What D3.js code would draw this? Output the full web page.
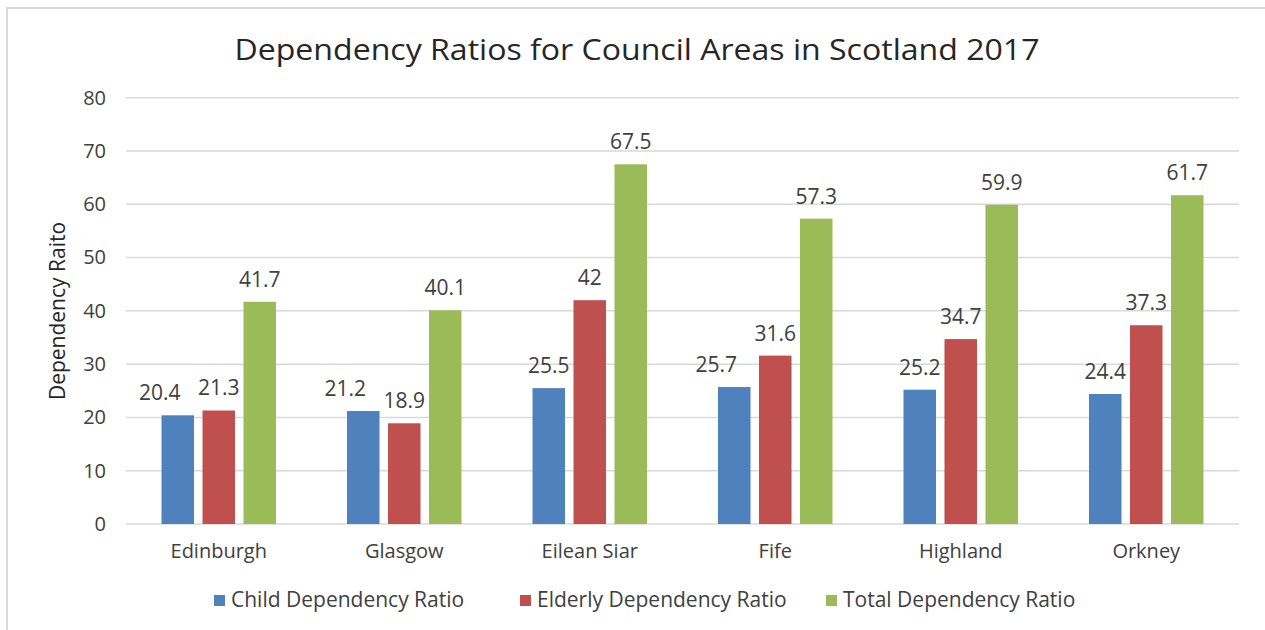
<!DOCTYPE html>
<html>
<head>
<meta charset="utf-8">
<script src="https://cdn.jsdelivr.net/npm/d3@7/dist/d3.min.js"></script>
<style>
  html, body { margin: 0; padding: 0; background: #fff; }
  svg { display: block; font-family: "Open Sans", "Liberation Sans", sans-serif; }
</style>
</head>
<body>
<svg id="chart" width="1265" height="630"></svg>
<script>
// Council areas and their dependency ratios (2017)
const areas = ["Edinburgh", "Glasgow", "Eilean Siar", "Fife", "Highland", "Orkney"];
const seriesNames = ["Child Dependency Ratio", "Elderly Dependency Ratio", "Total Dependency Ratio"];
const childRatio = [20.4, 21.2, 25.5, 25.7, 25.2, 24.4];
const elderlyRatio = [21.3, 18.9, 42, 31.6, 34.7, 37.3];
const totalRatio = [41.7, 40.1, 67.5, 57.3, 59.9, 61.7];
const yTicks = [0, 10, 20, 30, 40, 50, 60, 70, 80];
const seriesColors = ["#4F81BD", "#C0504D", "#9BBB59"];

const seriesValues = [childRatio, elderlyRatio, totalRatio];
const rows = areas.map((a, i) => ({
  area: a,
  values: seriesNames.map((s, k) => ({ series: s, k, value: seriesValues[k][i] }))
}));

const svg = d3.select("#chart");
const W = 1265, H = 630;
const plot = { left: 126, right: 1239, top: 97.7, bottom: 524 };

// outer frame
svg.append("rect")
  .attr("x", 7).attr("y", 8)
  .attr("width", W + 20).attr("height", H + 20)
  .attr("fill", "none").attr("stroke", "#D9D9D9").attr("stroke-width", 2);

const x0 = d3.scaleBand().domain(areas).range([plot.left, plot.right]).paddingInner(0).paddingOuter(0);
const x1 = d3.scaleBand().domain(seriesNames).range([0, x0.bandwidth()]).paddingInner(0.207).paddingOuter(0.866);
const y = d3.scaleLinear().domain([0, 80]).range([plot.bottom, plot.top]);

// gridlines
svg.append("g").selectAll("line").data(yTicks).join("line")
  .attr("x1", plot.left).attr("x2", plot.right)
  .attr("y1", d => y(d)).attr("y2", d => y(d))
  .attr("stroke", "#D9D9D9").attr("stroke-width", 1.5);

// y axis tick labels
const yAxis = d3.axisLeft(y).tickValues(yTicks).tickSize(0).tickPadding(0);
const yg = svg.append("g").attr("transform", `translate(106,0)`).call(yAxis);
yg.select(".domain").remove();
yg.selectAll("text").attr("font-size", 20).attr("fill", "#404040")
  .attr("font-family", "'Open Sans', sans-serif");

// x axis category labels
const xAxis = d3.axisBottom(x0).tickSize(0).tickPadding(0);
const xg = svg.append("g").attr("transform", `translate(0,${plot.bottom})`).call(xAxis);
xg.select(".domain").remove();
xg.selectAll("text").attr("font-size", 20).attr("fill", "#404040")
  .attr("font-family", "'Open Sans', sans-serif")
  .attr("dy", null).attr("y", 34);

// bars
const groups = svg.append("g").selectAll("g").data(rows).join("g")
  .attr("transform", d => `translate(${x0(d.area)},0)`);

groups.selectAll("rect").data(d => d.values).join("rect")
  .attr("x", d => x1(d.series))
  .attr("width", x1.bandwidth())
  .attr("y", d => y(d.value))
  .attr("height", d => y(0) - y(d.value))
  .attr("fill", d => seriesColors[d.k]);

// value labels; a label that would collide with its right neighbour slides left
const labels = groups.selectAll("text.val").data(d => d.values).join("text")
  .attr("class", "val")
  .attr("x", d => x1(d.series) + x1.bandwidth() / 2)
  .attr("y", d => y(d.value) - 15)
  .attr("text-anchor", "middle")
  .attr("font-size", 21).attr("fill", "#404040")
  .text(d => d.value);

groups.each(function () {
  const ts = d3.select(this).selectAll("text.val").nodes();
  for (let i = ts.length - 2; i >= 0; i--) {
    const a = ts[i].getBBox(), b = ts[i + 1].getBBox();
    const pad = 4;
    const overlapY = a.y < b.y + b.height + pad && b.y < a.y + a.height + pad;
    const overlapX = a.x + a.width + pad > b.x;
    if (overlapX && overlapY) {
      const cur = +ts[i].getAttribute("x");
      ts[i].setAttribute("x", cur - 18);
    }
  }
});

// title
svg.append("text")
  .attr("x", 637).attr("y", 60)
  .attr("text-anchor", "middle")
  .attr("font-size", 29).attr("fill", "#262626")
  .attr("textLength", 805).attr("lengthAdjust", "spacingAndGlyphs")
  .text("Dependency Ratios for Council Areas in Scotland 2017");

// y axis title
svg.append("text")
  .attr("transform", "translate(65,311) rotate(-90)")
  .attr("text-anchor", "middle")
  .attr("font-size", 21).attr("fill", "#262626")
  .text("Dependency Raito");

// legend
const legendX = [214, 520, 826];
const lg = svg.append("g").selectAll("g").data(seriesNames).join("g")
  .attr("transform", (d, i) => `translate(${legendX[i]},607)`);
lg.append("rect").attr("x", 0).attr("y", -12).attr("width", 11).attr("height", 11)
  .attr("fill", (d, i) => seriesColors[i]);
lg.append("text").attr("x", 17).attr("y", 0)
  .attr("font-size", 21).attr("fill", "#404040")
  .text(d => d);
</script>
</body>
</html>
